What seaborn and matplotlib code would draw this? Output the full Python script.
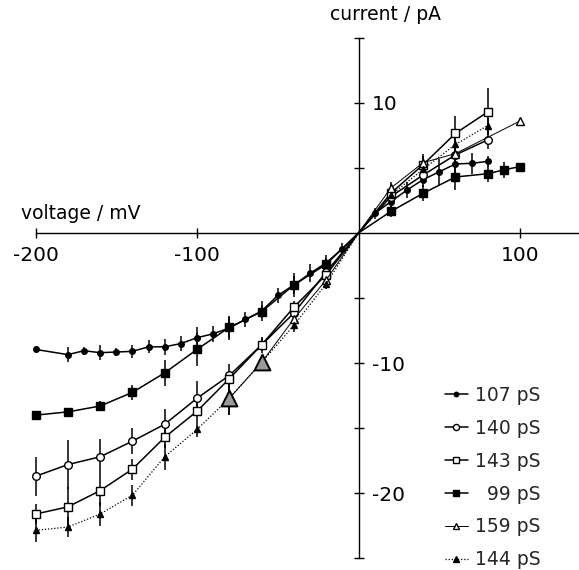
import numpy as np
import pandas as pd
import seaborn as sns
import matplotlib.pyplot as plt
from matplotlib.ticker import FixedLocator, FixedFormatter

# voltage (mV) and current (pA)
v_107 = [-200, -180, -170, -160, -150, -140, -130, -120, -110, -100, -90, -80, -70, -60,
         -50, -40, -30, -20, -10, 0, 10, 20, 30, 40, 50, 60, 70, 80]
i_107 = [-8.95, -9.35, -9.05, -9.2, -9.15, -9.1, -8.75, -8.75, -8.5, -8.05, -7.75, -7.3, -6.65, -6.0,
         -4.8, -4.0, -3.1, -2.3, -1.2, 0, 1.5, 2.4, 3.3, 4.1, 4.7, 5.3, 5.35, 5.5]
e_107 = [0.3, 0.6, 0.3, 0.6, 0.3, 0.5, 0.5, 0.6, 0.6, 0.8, 0.6, 0.9, 0.6, 0.8,
         0.6, 0.7, 0.7, 0.6, 0.4, 0, 0.4, 0.5, 0.6, 0.6, 1.0, 0.8, 0.8, 0.4]

v_140 = [-200, -180, -160, -140, -120, -100, -80, -60, -40, -20, 0, 20, 40, 60, 80]
i_140 = [-18.7, -17.8, -17.2, -16.0, -14.7, -12.7, -10.95, -8.6, -6.15, -3.0, 0, 2.8, 4.45, 6.0, 7.15]
e_140 = [1.5, 1.9, 1.4, 1.0, 1.2, 1.3, 0.9, 0.6, 0.6, 0.4, 0, 0.4, 0.6, 0.9, 0.7]

v_143 = [-200, -180, -160, -140, -120, -100, -80, -60, -40, -20, 0, 20, 40, 60, 80]
i_143 = [-21.6, -21.05, -19.8, -18.15, -15.7, -13.7, -11.2, -8.6, -5.7, -3.2, 0, 3.05, 5.25, 7.65, 9.3]
e_143 = [0.8, 1.5, 1.2, 0.8, 0.8, 0.8, 0.6, 0.5, 0.5, 0.4, 0, 0.4, 0.8, 1.3, 1.8]

v_99 = [-200, -180, -160, -140, -120, -100, -80, -60, -40, -20, 0, 20, 40, 60, 80, 90, 100]
i_99 = [-14.0, -13.75, -13.3, -12.25, -10.75, -8.95, -7.25, -6.05, -4.0, -2.4, 0, 1.65, 3.05, 4.3, 4.55, 4.85, 5.1]
e_99 = [0.3, 0.3, 0.4, 0.6, 1.0, 1.3, 0.8, 0.5, 0.9, 0.5, 0, 0.4, 0.6, 1.0, 0.6, 0.6, 0.3]

v_159 = [-80, -60, -40, -20, 0, 20, 40, 60, 100]
i_159 = [-12.7, -9.95, -6.6, -3.6, 0, 3.45, 5.4, 6.1, 8.6]
e_159 = [1.3, 0.5, 0.5, 0.4, 0, 0.5, 0.5, 1.1, 0.2]

v_144 = [-200, -180, -160, -140, -120, -100, -80, -60, -40, -20, 0, 20, 40, 60, 80]
i_144 = [-22.85, -22.6, -21.6, -20.15, -17.2, -15.1, -12.7, -9.95, -7.1, -3.9, 0, 2.9, 4.9, 6.8, 8.25]
e_144 = [0.9, 0.8, 0.9, 0.8, 1.0, 0.6, 1.3, 0.5, 0.5, 0.4, 0, 0.4, 0.5, 0.6, 0.6]

labels = ["107 pS", "140 pS", "143 pS", "  99 pS", "159 pS", "144 pS"]

sns.set_theme(style="white")
plt.rcParams["font.family"] = ["DejaVu Sans"]
plt.rcParams["axes.unicode_minus"] = False

fig = plt.figure(figsize=(5.79, 5.70), dpi=100)
ax = fig.add_axes([0, 0, 1, 1])
ax.set_facecolor("white")

series = [
    (v_107, i_107, e_107, dict(marker="o", ms=4, mfc="black", ls="-", lw=1.1)),
    (v_140, i_140, e_140, dict(marker="o", ms=5.5, mfc="white", ls="-", lw=1.1)),
    (v_143, i_143, e_143, dict(marker="s", ms=5.5, mfc="white", ls="-", lw=1.1)),
    (v_99, i_99, e_99, dict(marker="s", ms=5.5, mfc="black", ls="-", lw=1.1)),
    (v_159, i_159, e_159, dict(marker="^", ms=5.5, mfc="white", ls="-", lw=0.7)),
    (v_144, i_144, e_144, dict(marker="^", ms=5, mfc="black", ls=(0, (1, 1.5)), lw=0.9)),
]

for (v, i, e, st), lab in zip(series, labels):
    df = pd.DataFrame({"voltage": v, "current": i, "err": e})
    ax.errorbar(df["voltage"], df["current"], yerr=df["err"], fmt="none",
                ecolor="black", elinewidth=1.1, capsize=0, zorder=2)
    show = [x != 0 for x in v]
    sns.lineplot(data=df, x="voltage", y="current", ax=ax, color="black",
                 linestyle=st["ls"], linewidth=st["lw"], marker=st["marker"],
                 markersize=st["ms"], markerfacecolor=st["mfc"],
                 markeredgecolor="black", markeredgewidth=1.0, markevery=show,
                 errorbar=None, label=lab, zorder=3)

# the two large shaded triangles where 159 pS and 144 pS coincide
big = pd.DataFrame({"voltage": v_159[:2], "current": i_159[:2]})
sns.scatterplot(data=big, x="voltage", y="current", ax=ax, marker="^", s=130,
                color="#9a9a9a", edgecolor="black", linewidth=1.4, zorder=4, legend=False)

ax.set_xlim(-222, 136.5)
ax.set_ylim(-25.9, 17.9)

ax.spines["top"].set_visible(False)
ax.spines["right"].set_visible(False)
ax.spines["left"].set_position(("data", 0))
ax.spines["right"].set_position(("data", 0))
ax.spines["bottom"].set_position(("data", 0))
ax.spines["left"].set_bounds(-25, 15)
ax.spines["bottom"].set_bounds(-200, 136.5)
for side in ["left", "bottom"]:
    ax.spines[side].set_color("black")
    ax.spines[side].set_linewidth(1.0)

ax.xaxis.set_major_locator(FixedLocator([-200, -100, 100]))
ax.xaxis.set_major_formatter(FixedFormatter(["-200", "-100", "100"]))
yt = [-25, -20, -15, -10, -5, 5, 10, 15]
ax.yaxis.set_major_locator(FixedLocator(yt))
ax.yaxis.set_major_formatter(FixedFormatter(["", "-20", "", "-10", "", "", "10", ""]))
ax.tick_params(axis="x", bottom=True, direction="inout", length=7, width=1.0,
               pad=6, labelsize=14.5, colors="black")
ax.tick_params(axis="y", left=True, right=False, labelleft=False, labelright=True,
               direction="inout", length=7, width=1.0, pad=6, labelsize=14.5, colors="black")

ax.set_xlabel("voltage / mV", fontsize=13.5, color="black")
ax.xaxis.set_label_coords(81 / 579, 1 - 204 / 570)
ax.set_ylabel("current / pA", fontsize=13.5, color="black", rotation=0,
              ha="center", va="center")
ax.yaxis.set_label_coords(385 / 579, 1 - 14 / 570)

ax.legend(loc="upper left", bbox_to_anchor=(445 / 579, 1 - 386 / 570),
          bbox_transform=fig.transFigure, frameon=False, fontsize=13.5,
          handlelength=1.2, handletextpad=0.4, labelspacing=0.74,
          borderpad=0, borderaxespad=0, markerscale=0.8)

fig.savefig("out.png", dpi=100)
